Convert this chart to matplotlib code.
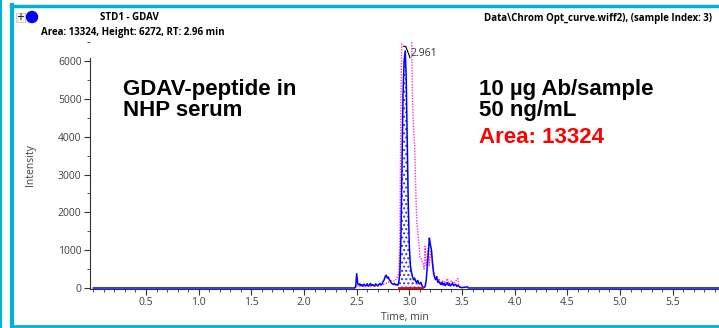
import matplotlib
matplotlib.use("Agg")
import matplotlib.pyplot as plt
import matplotlib.patches as mpatches
from matplotlib.lines import Line2D
from matplotlib.ticker import MultipleLocator

# blue trace (XIC of GDAV peptide)
t_blue = [0.0, 2.48, 2.49, 2.50, 2.51, 2.52, 2.53, 2.54, 2.55, 2.56, 2.57, 2.58, 2.59,
          2.60, 2.61, 2.62, 2.63, 2.64, 2.65, 2.66, 2.67, 2.68, 2.69, 2.70, 2.71, 2.72,
          2.73, 2.74, 2.75, 2.76, 2.77, 2.78, 2.79, 2.80, 2.81, 2.82, 2.83, 2.84, 2.85,
          2.86, 2.87, 2.88, 2.89, 2.90, 2.91, 2.92, 2.93, 2.94, 2.95, 2.961, 2.97, 2.98,
          2.99, 3.00, 3.01, 3.02, 3.03, 3.04, 3.05, 3.06, 3.07, 3.08, 3.09, 3.10, 3.11,
          3.12, 3.13, 3.14, 3.15, 3.16, 3.17, 3.18, 3.19, 3.20, 3.21, 3.22, 3.23, 3.24,
          3.25, 3.26, 3.27, 3.28, 3.29, 3.30, 3.31, 3.32, 3.33, 3.34, 3.35, 3.36, 3.37,
          3.38, 3.39, 3.40, 3.41, 3.42, 3.43, 3.44, 3.45, 3.46, 3.47, 3.48, 3.50, 3.55,
          3.56, 5.94]
i_blue = [0, 0, 20, 380, 120, 80, 110, 60, 90, 50, 100, 70, 60,
          110, 50, 80, 120, 60, 90, 70, 50, 110, 80, 60, 90, 120,
          80, 100, 170, 210, 300, 340, 260, 290, 220, 180, 130, 110, 90,
          120, 80, 90, 70, 150, 400, 1300, 3200, 5100, 6000, 6272, 5600, 3900,
          2200, 1100, 600, 420, 300, 220, 260, 180, 150, 200, 120, 110, 150,
          60, 20, 10, 40, 200, 550, 900, 1320, 1150, 1000, 650, 400, 280,
          220, 300, 150, 180, 120, 90, 150, 80, 120, 60, 100, 140, 70,
          110, 50, 90, 130, 60, 80, 100, 40, 70, 50, 20, 10, 30,
          0, 0]

# magenta dotted trace
t_pink = [2.48, 2.50, 2.52, 2.55, 2.58, 2.60, 2.63, 2.66, 2.70, 2.73, 2.76, 2.80,
          2.83, 2.86, 2.88, 2.90, 2.91, 2.92, 2.93, 2.96, 3.00, 3.02, 3.03, 3.04,
          3.05, 3.06, 3.07, 3.08, 3.09, 3.10, 3.11, 3.12, 3.13, 3.14, 3.15, 3.16,
          3.17, 3.18, 3.19, 3.20, 3.21, 3.22, 3.23, 3.24, 3.25, 3.26, 3.27, 3.28,
          3.30, 3.32, 3.34, 3.36, 3.38, 3.40, 3.42, 3.44, 3.46, 3.47, 3.48]
i_pink = [0, 60, 40, 50, 30, 60, 40, 70, 50, 80, 100, 150,
          200, 180, 250, 400, 1200, 5000, 7000, 7000, 7000, 7000, 5000, 4200,
          3800, 2700, 1750, 1500, 1200, 820, 800, 700, 650, 500, 1100, 600,
          800, 1050, 600, 900, 1000, 700, 450, 350, 200, 300, 150, 250,
          100, 200, 120, 250, 100, 200, 120, 180, 250, 80, 0]

peak_start, peak_end = 2.90, 3.12
apex_t, apex_i = 2.961, 6272
x_ticks = [0.5, 1.0, 1.5, 2.0, 2.5, 3.0, 3.5, 4.0, 4.5, 5.0, 5.5]
y_ticks = [0, 1000, 2000, 3000, 4000, 5000, 6000]

cyan = "#00b0e0"
tick_col = "#404040"

fig = plt.figure(figsize=(7.19, 3.28), dpi=100)
ax = fig.add_axes([0.125, 0.119, 0.875, 0.753])

ax.plot(t_pink, i_pink, color="#ff33cc", lw=1.0, ls=(0, (1, 1)), zorder=2)
ax.plot(t_blue, i_blue, color="#0000ff", lw=1.1, zorder=3)

# integrated area
sel = [k for k, t in enumerate(t_blue) if peak_start <= t <= peak_end]
ax.fill_between([t_blue[k] for k in sel], 0, [i_blue[k] for k in sel],
                facecolor="none", edgecolor="#3333ff", hatch="....", lw=0, zorder=2)
ax.plot([peak_start, peak_end], [0, 0], color="#ff0000", lw=2, zorder=4)

# apex marker
ax.plot([apex_t - 0.015, apex_t + 0.005, apex_t + 0.045],
        [apex_i + 120, apex_i + 120, apex_i - 180], color="black", lw=0.8, zorder=5)
ax.text(apex_t + 0.05, apex_i - 60, "2.961", fontsize=7.5, color="#333333",
        family="Open Sans", va="center", ha="left")

ax.set_xlim(-0.033, 5.94)
ax.set_ylim(-26, 6508)
ax.set_xticks(x_ticks)
ax.set_yticks(y_ticks)
ax.xaxis.set_minor_locator(MultipleLocator(0.1))
ax.yaxis.set_minor_locator(MultipleLocator(500))
for s in ["top", "right"]:
    ax.spines[s].set_visible(False)
ax.spines["left"].set_bounds(-26, 6080)
ax.spines["left"].set_color("#333333")
ax.spines["bottom"].set_color("#333333")
ax.tick_params(which="major", length=4, width=0.8, color="#333333",
               labelsize=7.5, labelcolor=tick_col, pad=2)
ax.tick_params(which="minor", length=2, width=0.6, color="#333333")
for lab in ax.get_xticklabels() + ax.get_yticklabels():
    lab.set_family("Open Sans")
ax.set_xlabel("Time, min", fontsize=7.5, color=tick_col, family="Open Sans", labelpad=3)
ax.set_ylabel("Intensity", fontsize=7.5, color=tick_col, family="Open Sans", labelpad=16)

# big annotations
big = dict(fontsize=16, fontweight="bold", family="Liberation Sans",
           transform=fig.transFigure, va="baseline")
fig.text(123 / 719, 1 - 95 / 328, "GDAV-peptide in", **big)
fig.text(123 / 719, 1 - 116 / 328, "NHP serum", **big)
fig.text(479 / 719, 1 - 95 / 328, "10 µg Ab/sample", **big)
fig.text(479 / 719, 1 - 116 / 328, "50 ng/mL", **big)
fig.text(479 / 719, 1 - 143 / 328, "Area: 13324", color="#ff0000", **big)

# header
hdr = dict(fontsize=7, fontweight="bold", family="Open Sans",
           transform=fig.transFigure, va="center")
fig.text(100 / 719, 1 - 18 / 328, "STD1 - GDAV", **hdr)
fig.text(41 / 719, 1 - 33 / 328, "Area: 13324, Height: 6272, RT: 2.96 min", **hdr)
fig.text(712 / 719, 1 - 18 / 328, "Data\\Chrom Opt_curve.wiff2), (sample Index: 3)",
         ha="right", **hdr)
fig.add_artist(mpatches.Rectangle((16 / 719, 1 - 22 / 328), 9 / 719, 9 / 328,
                                  transform=fig.transFigure, facecolor="#f0f0f0",
                                  edgecolor="#c8c8c8", lw=0.6))
fig.text(20.5 / 719, 1 - 17.5 / 328, "+", fontsize=7, ha="center", va="center",
         transform=fig.transFigure)
fig.add_artist(mpatches.Ellipse((32 / 719, 1 - 17 / 328), 11 / 719, 11 / 328,
                                transform=fig.transFigure, color="#0000ff"))

# frame lines
fig.add_artist(Line2D([1 / 719, 1 / 719], [0, 1], color=cyan, lw=1.5,
                      transform=fig.transFigure))
fig.add_artist(Line2D([12 / 719, 12 / 719], [0, 1 - 5 / 328], color=cyan, lw=3,
                      transform=fig.transFigure))
fig.add_artist(Line2D([10.5 / 719, 1], [1 - 6 / 328, 1 - 6 / 328], color=cyan, lw=2.5,
                      transform=fig.transFigure))
fig.add_artist(Line2D([10.5 / 719, 1], [1 - 325.5 / 328, 1 - 325.5 / 328], color=cyan,
                      lw=2, transform=fig.transFigure))

fig.savefig("out.png", dpi=100)
